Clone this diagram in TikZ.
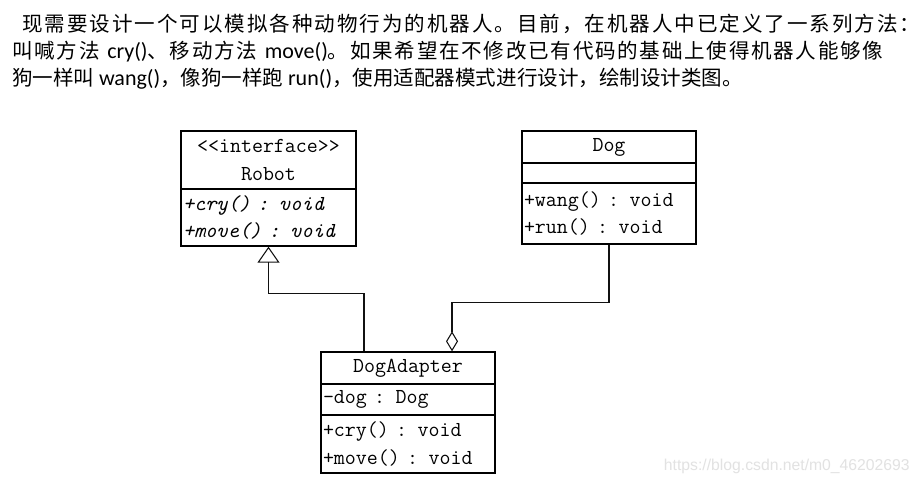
\documentclass[tikz,border=0pt]{standalone}
\usepackage{fontspec}
\usepackage{xcolor}
\usepackage{tikz}
\usetikzlibrary{arrows.meta}
\newfontfamily\cjk{Noto Sans CJK SC}
\newfontfamily\en{Carlito}
\newfontfamily\wmfont{Liberation Sans}
% stretchable glue between Han characters
\makeatletter
\count@="4E00
\loop \XeTeXcharclass\count@=1 \advance\count@\@ne \ifnum\count@<"A000 \repeat
\makeatother
\XeTeXcharclass`，=3 \XeTeXcharclass`。=3 \XeTeXcharclass`：=3 \XeTeXcharclass`、=3
\XeTeXinterchartokenstate=1
\XeTeXinterchartoks 1 1 = {\hskip 0pt plus 1pt}
\XeTeXinterchartoks 1 3 = {\hskip 0pt plus 1pt}
\XeTeXinterchartoks 3 1 = {\hskip 0pt plus 1pt}
\definecolor{ink}{HTML}{000000}
\definecolor{wire}{HTML}{111111}
\definecolor{faint}{HTML}{E2E2E2}
\newcommand\uml{\fontsize{16}{20.5}\selectfont\ttfamily}
\newcommand\lat{\en\fontsize{16.5}{20}\selectfont}
\tikzset{
  para/.style={font=\cjk\fontsize{15.4}{20}\selectfont, text=ink, anchor=base west, inner sep=0pt},
  clsname/.style={draw=ink, line width=1pt, inner sep=0pt, font=\uml, align=center},
  clsbody/.style={draw=ink, line width=1pt, inner xsep=1.5pt, inner ysep=0pt, font=\uml, align=left},
  gen/.style={draw=wire, line width=0.8pt, -{Triangle[open, length=12pt, width=16.5pt]}},
  agg/.style={draw=wire, line width=0.8pt, -{Diamond[open, length=15pt, width=9pt]}},
  wm/.style={font=\wmfont\fontsize{11.8}{14}\selectfont, text=faint, inner sep=0pt}
}
\begin{document}
\begin{tikzpicture}[x=0.75pt, y=-0.75pt]
  \fill[white] (0,0) rectangle (921,483);
  \useasboundingbox (0,0) rectangle (921,483);

  % task text
  \node[para] (txtA) at (22,31) {\hbox to 673.5pt{现需要设计一个可以模拟各种动物行为的机器人。目前，在机器人中已定义了一系列方法：}};
  \node[para] (txtB) at (12,58) {\hbox to 653.25pt{叫喊方法 {\lat cry()}、移动方法 {\lat move()}。如果希望在不修改已有代码的基础上使得机器人能够像}};
  \node[para] (txtC) at (12,85) {狗一样叫 {\lat wang()}，像狗一样跑 {\lat run()}，使用适配器模式进行设计，绘制设计类图。};

  % Robot
  \node[clsname, minimum width=131.25pt, minimum height=43.5pt] (robotH) at (268.5,160) {<<interface>>\\Robot};
  \node[clsbody, text width=128.25pt, minimum height=42.75pt, font=\uml\itshape] (robotM) at (268.5,217.5) {+cry() : void\\+move() : void};

  % Dog
  \node[clsname, minimum width=130.5pt, minimum height=24pt] (dogH) at (609,147) {Dog};
  \node[clsbody, text width=127.5pt, minimum height=15pt] (dogA) at (609,173) {};
  \node[clsbody, text width=127.5pt, minimum height=45.75pt] (dogM) at (609,213.5) {+wang() : void\\+run() : void};

  % DogAdapter
  \node[clsname, minimum width=130.5pt, minimum height=24pt] (adaptH) at (408,368) {DogAdapter};
  \node[clsbody, text width=127.5pt, minimum height=23.25pt] (adaptA) at (408,399.5) {-dog : Dog};
  \node[clsbody, text width=127.5pt, minimum height=43.5pt] (adaptM) at (408,444) {+cry() : void\\+move() : void};

  \draw[gen] ([xshift=-33pt]adaptH.north) -- ++(0,-58) -| (robotM.south);
  \draw[agg] (dogM.south) -- ++(0,58) -| ([xshift=33pt]adaptH.north);

  \node[wm, anchor=base east] (src) at (910,470) {https://blog.csdn.net/m0\_46202693};
\end{tikzpicture}
\end{document}
